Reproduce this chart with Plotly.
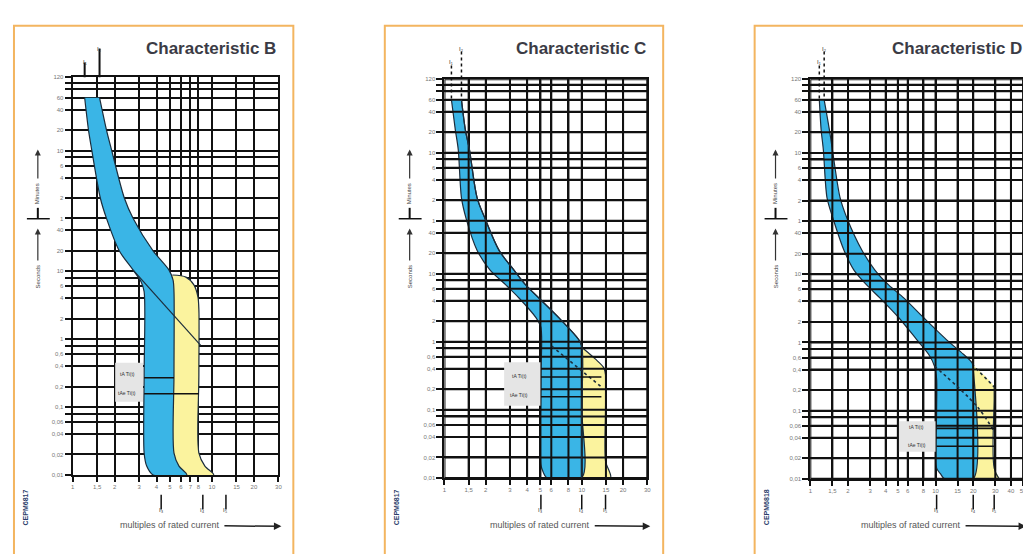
import math
import plotly.graph_objects as go

W, H = 1031, 554
OFF = 8  # the page body margin shifts the figure by 8 px

# ---------------- axis ticks / grid (time in seconds, current in multiples of In) ----------------
y_tick_vals = [7200, 3600, 2400, 1200, 600, 360, 240, 120, 60,
               40, 20, 10, 6, 4, 2, 1, 0.6, 0.4, 0.2, 0.1, 0.06, 0.04, 0.02, 0.01]
y_tick_text = ["120", "60", "40", "20", "10", "6", "4", "2", "1",
               "40", "20", "10", "6", "4", "2", "1", "0,6", "0,4", "0,2", "0,1",
               "0,06", "0,04", "0,02", "0,01"]
y_grid_extra = [6000, 4800, 480, 8, 0.8, 0.08]
t_min, t_max = 0.01, 7200

b_x_ticks = [1, 1.5, 2, 3, 4, 5, 6, 7, 8, 10, 15, 20, 30]
c_x_ticks = [1, 1.5, 2, 3, 4, 5, 6, 8, 10, 15, 20, 30]
d_x_ticks = [1, 1.5, 2, 3, 4, 5, 6, 8, 10, 15, 20, 30, 40, 50]

# ---------------- Characteristic B ----------------
b_left_x = [1.22, 1.30, 1.37, 1.58, 1.75, 2.16, 2.72, 3.10, 3.26, 3.26, 3.26, 3.40, 3.78]
b_left_t = [3600, 1200, 620, 120, 60, 20, 10.4, 7.0, 5.0, 0.3, 0.021, 0.0135, 0.01]
b_right_x = [1.56, 1.75, 1.90, 2.35, 2.72, 3.78, 4.92, 5.26, 5.34, 5.34, 5.34, 5.80, 6.60]
b_right_t = [3600, 1200, 620, 120, 60, 20, 10.4, 7.4, 5.0, 0.3, 0.021, 0.0135, 0.01]
b_yel_x = [5.2, 6.5, 7.42, 7.93, 8.06, 8.06, 8.06, 8.9, 10.3, 5.2]
b_yel_t = [8.8, 8.2, 6.3, 4.2, 2.7, 0.3, 0.021, 0.0135, 0.01, 0.01]
b_diag_x = [2.72, 8.3]
b_diag_t = [10.4, 0.81]
b_mark_t = [0.27, 0.157]
b_mark_x_end = [5.34, 8.06]
b_mark_x_start = 3.26
b_top_marks = [1.22, 1.56]
b_bottom_marks = [4.32, 8.6, 12.6]
b_gap_x = [2.02, 3.2]
b_gap_t = [0.45, 0.12]

# ---------------- Characteristic C ----------------
c_left_x = [1.124, 1.20, 1.26, 1.33, 1.44, 1.73, 2.15, 2.81, 3.49, 4.64, 5.04, 5.04, 5.04, 5.25, 5.57]
c_left_t = [3600, 1300, 668, 130, 64, 22, 11.3, 6.8, 4.4, 2.26, 1.62, 0.3, 0.0155, 0.012, 0.01]
c_right_x = [1.33, 1.42, 1.52, 1.73, 1.98, 2.50, 3.21, 3.92, 4.87, 6.80, 9.49, 10.0, 10.0, 10.0]
c_right_t = [3600, 1300, 668, 130, 64, 22, 11.3, 6.8, 4.4, 2.26, 1.08, 0.86, 0.1, 0.01]
c_yel_x = [9.8, 12.6, 14.4, 14.9, 14.9, 14.9, 16.2, 9.8]
c_yel_t = [0.86, 0.555, 0.42, 0.33, 0.1, 0.0177, 0.01, 0.01]
c_dash_x = [6.05, 13.9]
c_dash_t = [0.86, 0.217]
c_mark_t = [0.304, 0.156]
c_mark_x = [5.04, 13.9]
c_top_marks = [1.124, 1.33]
c_bottom_marks = [5.04, 10, 14.9]
c_gap_x = [2.72, 5.0]
c_gap_t = [0.5, 0.115]

# ---------------- Characteristic D ----------------
d_left_x = [1.18, 1.22, 1.27, 1.36, 1.52, 1.86, 2.23, 2.83, 3.59, 5.09, 7.07, 8.8, 9.8, 10.2, 10.2, 10.2, 10.9, 11.8]
d_left_t = [3600, 1312, 673, 131, 65, 22.3, 11.5, 6.9, 4.5, 2.3, 1.1, 0.67, 0.45, 0.29, 0.1, 0.0144, 0.012, 0.01]
d_right_x = [1.29, 1.42, 1.50, 1.73, 1.97, 2.59, 3.28, 4.24, 5.57, 8.04, 12.2, 16.7, 19.6, 20.0, 20.0]
d_right_t = [3600, 1312, 673, 131, 65, 22.3, 11.5, 6.9, 4.5, 2.3, 1.1, 0.67, 0.5, 0.4, 0.01]
d_yel_x = [19.5, 29.4, 29.4, 29.4, 32.2, 19.5]
d_yel_t = [0.48, 0.223, 0.15, 0.0144, 0.01, 0.01]
d_dash_x = [9.8, 21.2, 29.4]
d_dash_t = [0.45, 0.118, 0.0497]
d_mark_t = [0.055, 0.030]
d_mark_x = [10.2, 29.4]
d_top_marks = [1.18, 1.29]
d_bottom_marks = [10.2, 20, 29.4]
d_gap_x = [5.1, 10.0]
d_gap_t = [0.07, 0.025]

top_mark_names = ["I₁", "I₂"]
bottom_mark_names = ["I₃", "I₄", "I₅"]
trip_labels = ["tA Ti(t)", "tAe Ti(t)"]

# ---------------- styles ----------------
BLUE = "#3ab5e6"
YELLOW = "#fbf39e"
BG = "#e5e5e5"
INK = "#111111"
EDGE = "#1c2d3c"
ORANGE = "#f3b560"
FONT = "Liberation Sans"


def fmt(v):
    return ("%g" % v).replace(".", ",")


def pxx(p):
    return (p - OFF) / W


def pyy(p):
    return 1 - (p - OFF) / H


panels = [
    dict(name="B", n="", xdom=(71, 278), ydom=(75, 477), xticks=b_x_ticks, xmax=30, box=(12, 293)),
    dict(name="C", n="2", xdom=(445, 649), ydom=(77, 480), xticks=c_x_ticks, xmax=30, box=(385, 665)),
    dict(name="D", n="3", xdom=(813, 1027), ydom=(77, 481), xticks=d_x_ticks, xmax=50, box=(757, 1050)),
]

fig = go.Figure()
layout = dict(width=W, height=H, margin=dict(l=0, r=0, t=0, b=0),
              paper_bgcolor="white", plot_bgcolor=BG, showlegend=False,
              font=dict(family=FONT))

for p in panels:
    n = p["n"]
    layout["xaxis" + n] = dict(
        type="log", domain=[pxx(p["xdom"][0]), pxx(p["xdom"][1])],
        range=[0, math.log10(p["xmax"])], tickvals=p["xticks"],
        ticktext=[fmt(v) for v in p["xticks"]], ticks="outside", ticklen=5,
        tickwidth=1.5, tickcolor=INK, showgrid=True, gridcolor=INK, gridwidth=2,
        showline=True, linecolor=INK, linewidth=2, mirror=True, zeroline=False,
        tickfont=dict(size=6, color="#777"), anchor="y" + n, fixedrange=True)
    layout["yaxis" + n] = dict(
        type="log", domain=[pyy(p["ydom"][1]), pyy(p["ydom"][0])],
        range=[math.log10(t_min), math.log10(t_max)], tickvals=y_tick_vals,
        ticktext=y_tick_text, ticks="outside", ticklen=6, tickwidth=1.5,
        tickcolor=INK, showgrid=True, gridcolor=INK, gridwidth=2,
        minor=dict(tickmode="array", tickvals=y_grid_extra, showgrid=True,
                   gridcolor=INK, gridwidth=2, ticks="outside", ticklen=6,
                   tickcolor=INK, tickwidth=1.5),
        showline=True, linecolor=INK, linewidth=2, mirror=True, zeroline=False,
        tickfont=dict(size=6, color="#777"), anchor="x" + n, fixedrange=True)


def add(trace, n):
    trace.update(xaxis="x" + n, yaxis="y" + n, hoverinfo="skip", showlegend=False)
    fig.add_trace(trace)


def band(xs, ts, color, n, outline=True):
    add(go.Scatter(x=xs, y=ts, mode="lines", fill="toself", fillcolor=color,
                   line=dict(color=EDGE if outline else color, width=1.2 if outline else 0,
                             shape="spline", smoothing=0.8)), n)


def blue_band(lx, lt, rx, rt, n):
    band(lx + rx[::-1], lt + rt[::-1], BLUE, n)


def grid_overlay(xticks, xmax, n):
    xs, ys = [], []
    for v in xticks:
        xs += [v, v, None]
        ys += [t_min, t_max, None]
    for v in y_tick_vals + y_grid_extra:
        xs += [1, xmax, None]
        ys += [v, v, None]
    add(go.Scatter(x=xs, y=ys, mode="lines", line=dict(color=INK, width=2)), n)


def gap(gx, gt, n):
    add(go.Scatter(x=[gx[0], gx[1], gx[1], gx[0], gx[0]],
                   y=[gt[0], gt[0], gt[1], gt[1], gt[0]], mode="lines",
                   fill="toself", fillcolor=BG, line=dict(width=0, color=BG)), n)


def seg(xs, ts, n, dash="solid", width=1.3, color=EDGE, spline=False):
    add(go.Scatter(x=xs, y=ts, mode="lines",
                   line=dict(color=color, width=width, dash=dash,
                             shape="spline" if spline else "linear")), n)


# ---- B ----
band(b_yel_x, b_yel_t, YELLOW, "")
blue_band(b_left_x, b_left_t, b_right_x, b_right_t, "")
seg(b_diag_x, b_diag_t, "", width=1.2)
for tt, xe in zip(b_mark_t, b_mark_x_end):
    seg([b_mark_x_start, xe], [tt, tt], "", width=1.6, color=INK)
gap(b_gap_x, b_gap_t, "")

# ---- C ----
band(c_yel_x, c_yel_t, YELLOW, "2")
blue_band(c_left_x, c_left_t, c_right_x, c_right_t, "2")
grid_overlay(c_x_ticks, 30, "2")
seg(c_right_x, c_right_t, "2", width=1.3, spline=True)
seg(c_dash_x, c_dash_t, "2", dash="dot", width=1.6)
for tt in c_mark_t:
    seg(c_mark_x, [tt, tt], "2", width=1.6, color=INK)
gap(c_gap_x, c_gap_t, "2")

# ---- D ----
band(d_yel_x, d_yel_t, YELLOW, "3", outline=False)
seg(d_yel_x[1:5], d_yel_t[1:5], "3", width=1.2, spline=True)
seg(d_yel_x[0:2], d_yel_t[0:2], "3", dash="dot", width=1.6)
blue_band(d_left_x, d_left_t, d_right_x, d_right_t, "3")
grid_overlay(d_x_ticks, 50, "3")
seg(d_dash_x, d_dash_t, "3", dash="dot", width=1.6, spline=True)
for tt in d_mark_t:
    seg(d_mark_x, [tt, tt], "3", width=1.6, color=INK)
gap(d_gap_x, d_gap_t, "3")

# ---------------- decorations ----------------
shapes = []
annotations = []


def txt(s, x, y, size=6, color="#444", angle=0, xanchor="center", bold=False):
    annotations.append(dict(text=s, x=pxx(x), y=pyy(y),
                            xref="paper", yref="paper", showarrow=False,
                            font=dict(size=size, color=color, family=FONT,
                                      weight="bold" if bold else "normal"),
                            textangle=angle, xanchor=xanchor, yanchor="middle"))


def arrow_label(s, xh, yh, xt, yt, size=6, color="#444", angle=0, acolor="#333", width=1.2):
    annotations.append(dict(text=s, x=pxx(xh), y=pyy(yh), xref="paper", yref="paper",
                            showarrow=True, ax=xt - xh, ay=yt - yh, arrowhead=2,
                            arrowsize=1, arrowwidth=width, arrowcolor=acolor,
                            textangle=angle, standoff=0, startstandoff=3,
                            font=dict(size=size, color=color, family=FONT)))


def pline(x0, y0, x1, y1, width=1.5, color=INK, dash="solid"):
    shapes.append(dict(type="line", xref="paper", yref="paper", x0=pxx(x0), y0=pyy(y0),
                       x1=pxx(x1), y1=pyy(y1), line=dict(color=color, width=width, dash=dash)))


codes = {"B": "CEPM6817", "C": "CEPM6817", "D": "CEPM6818"}
top_marks = {"B": b_top_marks, "C": c_top_marks, "D": d_top_marks}
bottom_marks = {"B": b_bottom_marks, "C": c_bottom_marks, "D": d_bottom_marks}
title_right = {"B": 278, "C": 650, "D": 1028}

for p in panels:
    n, name = p["n"], p["name"]
    L, R = p["xdom"]
    bx0, bx1 = p["box"]
    shapes.append(dict(type="rect", xref="paper", yref="paper", layer="below",
                       x0=pxx(bx0), x1=pxx(bx1), y0=pyy(570), y1=pyy(23),
                       line=dict(color=ORANGE, width=2), fillcolor="white"))
    txt("Characteristic " + name, title_right[name], 46, size=17, color="#3b3b45",
        xanchor="right", bold=True)
    xc = L - 35
    arrow_label("Minutes", xc, 148, xc, 192, angle=-90)
    pline(xc, 207, xc, 218, width=2)
    pline(xc - 11, 218, xc + 12, 218, width=1.5)
    arrow_label("Seconds", xc, 228, xc, 276, angle=-90)
    mid = (L + R) / 2 - 5
    arrow_label("multiples of rated current", R + 3, 529, mid, 528, size=9,
                color="#555", acolor="#222", width=1.5)
    txt(codes[name], bx0 + 12, 510, size=7, color="#2b3d6b", angle=-90, bold=True)
    ax_ref = "x" + n
    starts = [60, 46]
    for k, v in enumerate(top_marks[name]):
        if name == "B":
            shapes.append(dict(type="line", xref=ax_ref, yref="paper", x0=v, x1=v,
                               y0=pyy(starts[k]), y1=pyy(p["ydom"][0]),
                               line=dict(color=INK, width=2)))
        else:
            shapes.append(dict(type="line", xref=ax_ref, yref="paper", x0=v, x1=v,
                               y0=pyy(starts[k] + 3), y1=pyy(97),
                               line=dict(color=INK, width=1.5, dash="dot")))
        annotations.append(dict(text=top_mark_names[k], x=math.log10(v),
                                y=pyy(starts[k] - 5), xref=ax_ref, yref="paper",
                                showarrow=False, font=dict(size=6, color="#333")))
    for k, v in enumerate(bottom_marks[name]):
        shapes.append(dict(type="line", xref=ax_ref, yref="paper", x0=v, x1=v,
                           y0=pyy(512), y1=pyy(497), line=dict(color=INK, width=1.5)))
        annotations.append(dict(text=bottom_mark_names[k], x=math.log10(v),
                                y=pyy(518), xref=ax_ref, yref="paper", showarrow=False,
                                font=dict(size=6, color="#333")))

# small labels next to the instantaneous-trip lines
label_pos = [(126, 375, 394), (520, 377, 396), (920, 429, 447)]
for xl, y1, y2 in label_pos:
    txt(trip_labels[0], xl, y1, size=5, color="#333")
    txt(trip_labels[1], xl, y2, size=5, color="#333")

layout["shapes"] = shapes
layout["annotations"] = annotations
fig.update_layout(**layout)
fig.write_html("out.html")
